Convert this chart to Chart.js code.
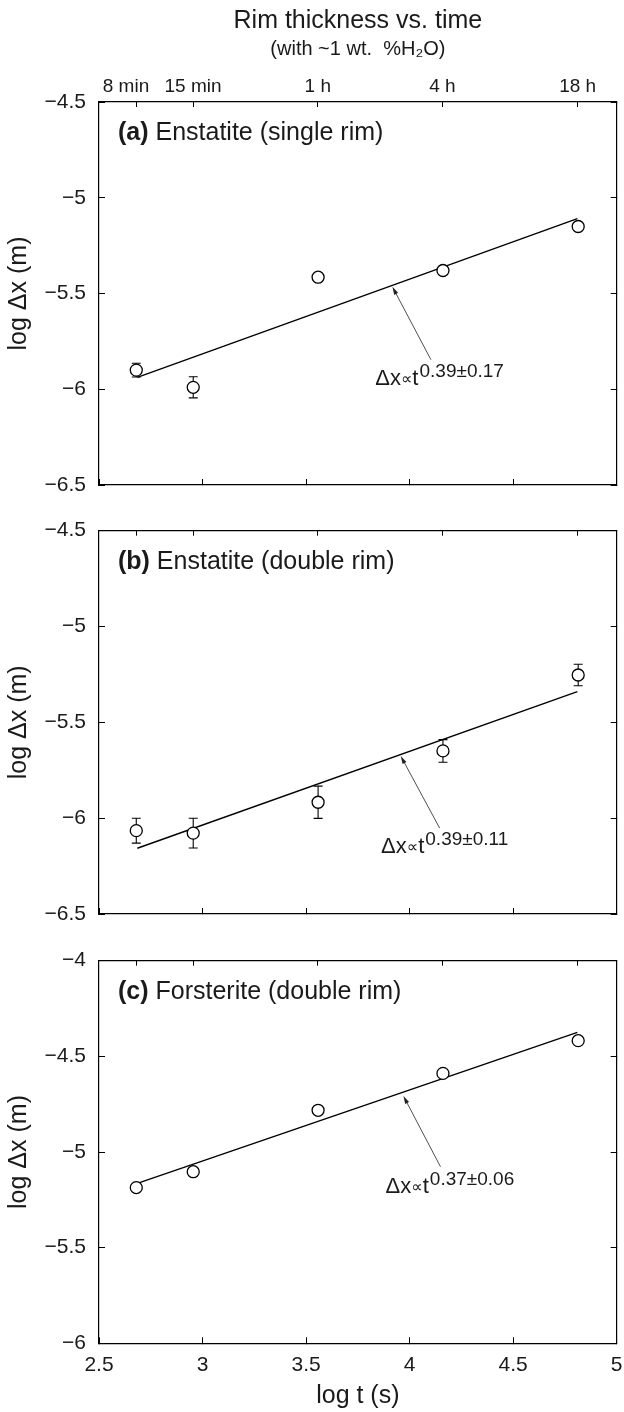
<!DOCTYPE html>
<html>
<head>
<meta charset="utf-8">
<script src="https://cdn.jsdelivr.net/npm/chart.js@4.4.1/dist/chart.umd.min.js"></script>
<style>
  html, body { margin: 0; padding: 0; background: #fff; }
  body { width: 624px; height: 1412px; position: relative; overflow: hidden; }
  canvas { position: absolute; left: 0; }
</style>
</head>
<body>
<canvas id="panelA" width="624" height="500" style="top:0"></canvas>
<canvas id="panelB" width="624" height="430" style="top:500px"></canvas>
<canvas id="panelC" width="624" height="482" style="top:930px"></canvas>
<script>
const FONT = "'Liberation Sans', Arial, Helvetica, sans-serif";
Chart.defaults.font.family = FONT;
Chart.defaults.color = '#1a1a1a';

// run durations (top axis) and their log10 positions on the time axis
const runSeconds = [480, 900, 3600, 14400, 64800];
const runLabels = ['8 min    ', '15 min', '1 h', '4 h', '18 h'];
const logTime = [2.68, 2.955, 3.558, 4.161, 4.814];

// log rim thickness, with error bar half-widths
const enstatiteSingle = [-5.90, -5.99, -5.415, -5.38, -5.15];
const enstatiteSingleErr = [0.036, 0.055, 0, 0, 0];
const enstatiteDouble = [-6.065, -6.078, -5.917, -5.649, -5.253];
const enstatiteDoubleErr = [0.065, 0.078, 0.084, 0.059, 0.056];
const forsteriteDouble = [-5.186, -5.103, -4.782, -4.589, -4.418];
const forsteriteDoubleErr = [0, 0, 0, 0, 0];

// power-law fit lines (end points)
const fitTimes = [2.685, 4.81];
const fitSingle = [-5.938, -5.109];
const fitDouble = [-6.157, -5.340];
const fitForsterite = [-5.164, -4.375];

const points = (xs, ys) => xs.map((x, i) => ({ x, y: ys[i] }));
const errorBars = (xs, ys, es) => {
  const out = [];
  xs.forEach((x, i) => {
    if (!es[i]) return;
    out.push({ x, y: ys[i] - es[i] }, { x, y: ys[i] + es[i] }, { x, y: null });
  });
  return out;
};
const minus = v => (v < 0 ? '\u2212' + Math.abs(v) : String(v));

const notesPlugin = {
  id: 'panelNotes',
  afterDatasetsDraw(chart, args, opts) {
    const { ctx, chartArea } = chart;
    const x = chart.scales.x;
    const y = chart.scales.y;
    ctx.save();
    ctx.fillStyle = '#1a1a1a';
    ctx.textAlign = 'left';
    ctx.textBaseline = 'alphabetic';

    // panel label
    let px = chartArea.left + 19;
    const py = chartArea.top + 38;
    ctx.font = 'bold 25px ' + FONT;
    ctx.fillText(opts.tag, px, py);
    px += ctx.measureText(opts.tag).width;
    ctx.font = '25px ' + FONT;
    ctx.fillText(' ' + opts.name, px, py);

    // arrow pointing at the fit line
    const tx = x.getPixelForValue(opts.tip[0]);
    const ty = y.getPixelForValue(opts.tip[1]);
    const sx = x.getPixelForValue(opts.tail[0]);
    const sy = y.getPixelForValue(opts.tail[1]);
    const ang = Math.atan2(ty - sy, tx - sx);
    ctx.strokeStyle = '#222';
    ctx.lineWidth = 0.8;
    ctx.beginPath();
    ctx.moveTo(sx, sy);
    ctx.lineTo(tx - Math.cos(ang) * 4, ty - Math.sin(ang) * 4);
    ctx.stroke();
    ctx.beginPath();
    ctx.moveTo(tx, ty);
    ctx.lineTo(tx - Math.cos(ang) * 8 - Math.sin(ang) * 2.2, ty - Math.sin(ang) * 8 + Math.cos(ang) * 2.2);
    ctx.lineTo(tx - Math.cos(ang) * 8 + Math.sin(ang) * 2.2, ty - Math.sin(ang) * 8 - Math.cos(ang) * 2.2);
    ctx.closePath();
    ctx.fillStyle = '#222';
    ctx.fill();

    // Δx ∝ t^(exponent)
    ctx.fillStyle = '#1a1a1a';
    let fx = x.getPixelForValue(opts.textAt[0]);
    const fy = y.getPixelForValue(opts.textAt[1]);
    ctx.font = '22px ' + FONT;
    ctx.fillText('\u0394x', fx, fy);
    fx += ctx.measureText('\u0394x').width;
    ctx.font = "16px 'DejaVu Sans', " + FONT;
    ctx.fillText('\u221D', fx, fy - 1);
    fx += ctx.measureText('\u221D').width;
    ctx.font = '22px ' + FONT;
    ctx.fillText('t', fx, fy);
    fx += ctx.measureText('t').width;
    ctx.font = '19px ' + FONT;
    ctx.fillText(opts.sup, fx + 1, fy - 8);
    ctx.restore();
  }
};

function makePanel(id, p) {
  const border = { display: true, color: '#000', width: 1.2 };
  return new Chart(document.getElementById(id), {
    type: 'scatter',
    data: {
      datasets: [
        {
          data: points(logTime, p.values),
          pointStyle: 'circle',
          pointRadius: 6,
          pointBackgroundColor: '#fff',
          pointBorderColor: '#000',
          pointBorderWidth: 1.3,
          showLine: false,
        },
        {
          data: errorBars(logTime, p.values, p.errors),
          showLine: true,
          spanGaps: false,
          borderColor: '#000',
          borderWidth: 1.1,
          pointStyle: 'line',
          pointRadius: 4.5,
          pointBorderColor: '#000',
          pointBorderWidth: 1.1,
        },
        {
          data: points(fitTimes, p.fit),
          showLine: true,
          borderColor: '#000',
          borderWidth: 1.4,
          pointRadius: 0,
        },
      ],
    },
    options: {
      responsive: false,
      animation: false,
      events: [],
      layout: { padding: 0 },
      plugins: {
        legend: { display: false },
        tooltip: { enabled: false },
        title: p.title || { display: false },
        subtitle: p.subtitle || { display: false },
        panelNotes: p.notes,
      },
      scales: {
        x: {
          type: 'linear',
          position: 'bottom',
          min: 2.5,
          max: 5,
          ticks: {
            stepSize: 0.5,
            display: !!p.bottomLabels,
            padding: 15.1,
            maxRotation: 0,
            font: { size: 21 },
            callback: v => String(v),
          },
          grid: { drawOnChartArea: false, tickLength: -6, color: '#000', lineWidth: 1 },
          border,
          title: { display: !!p.bottomLabels, text: 'log t (s)', font: { size: 25 }, padding: { top: 0, bottom: 1 } },
          afterFit: s => { s.height = p.bottomH; s.paddingLeft = 0; s.paddingRight = 0; },
        },
        xTop: {
          type: 'linear',
          position: 'top',
          min: 2.5,
          max: 5,
          afterBuildTicks: s => { s.ticks = runSeconds.map(v => ({ value: Math.log10(v) })); },
          ticks: {
            display: !!p.topLabels,
            autoSkip: false,
            maxRotation: 0,
            padding: 9.1,
            font: { size: 19 },
            callback: (v, i) => runLabels[i],
          },
          grid: { drawOnChartArea: false, tickLength: -5, color: '#000', lineWidth: 1 },
          border,
          afterFit: s => { s.height = p.topH; s.paddingLeft = 0; s.paddingRight = 0; },
        },
        y: {
          position: 'left',
          min: p.yMin,
          max: p.yMax,
          ticks: { stepSize: 0.5, padding: 19, font: { size: 21 }, callback: v => minus(v) },
          grid: { drawOnChartArea: false, tickLength: -6, color: '#000', lineWidth: 1 },
          border,
          title: { display: true, text: 'log \u0394x (m)', font: { size: 25 }, padding: { top: 4.6, bottom: 0 } },
          afterFit: s => { s.width = 99; s.paddingTop = 0; s.paddingBottom = 0; },
        },
        yRight: {
          position: 'right',
          min: p.yMin,
          max: p.yMax,
          ticks: { stepSize: 0.5, display: false },
          grid: { drawOnChartArea: false, tickLength: -6, color: '#000', lineWidth: 1 },
          border,
          afterFit: s => { s.width = 7; s.paddingTop = 0; s.paddingBottom = 0; },
        },
      },
    },
    plugins: [notesPlugin],
  });
}

makePanel('panelA', {
  values: enstatiteSingle,
  errors: enstatiteSingleErr,
  fit: fitSingle,
  yMin: -6.5,
  yMax: -4.5,
  topLabels: true,
  topH: 41,
  bottomH: 15,
  title: {
    display: true,
    text: 'Rim thickness vs. time',
    fullSize: false,
    font: { size: 25, weight: 'normal' },
    padding: { top: 6.6, bottom: 0 },
  },
  subtitle: {
    display: true,
    text: '(with ~1 wt.  %H\u2082O)',
    fullSize: false,
    font: { size: 20 },
    padding: { top: 0.4, bottom: 0 },
  },
  notes: {
    tag: '(a)',
    name: 'Enstatite (single rim)',
    tip: [3.917, -5.465],
    tail: [4.103, -5.846],
    textAt: [3.834, -5.976],
    sup: '0.39\u00B10.17',
  },
});

makePanel('panelB', {
  values: enstatiteDouble,
  errors: enstatiteDoubleErr,
  fit: fitDouble,
  yMin: -6.5,
  yMax: -4.5,
  topH: 30.7,
  bottomH: 16,
  notes: {
    tag: '(b)',
    name: 'Enstatite (double rim)',
    tip: [3.957, -5.675],
    tail: [4.145, -6.052],
    textAt: [3.862, -6.183],
    sup: '0.39\u00B10.11',
  },
});

makePanel('panelC', {
  values: forsteriteDouble,
  errors: forsteriteDoubleErr,
  fit: fitForsterite,
  yMin: -6,
  yMax: -4,
  topH: 30.7,
  bottomH: 68.7,
  bottomLabels: true,
  notes: {
    tag: '(c)',
    name: 'Forsterite (double rim)',
    tip: [3.970, -4.707],
    tail: [4.149, -5.077],
    textAt: [3.884, -5.213],
    sup: '0.37\u00B10.06',
  },
});
</script>
</body>
</html>
